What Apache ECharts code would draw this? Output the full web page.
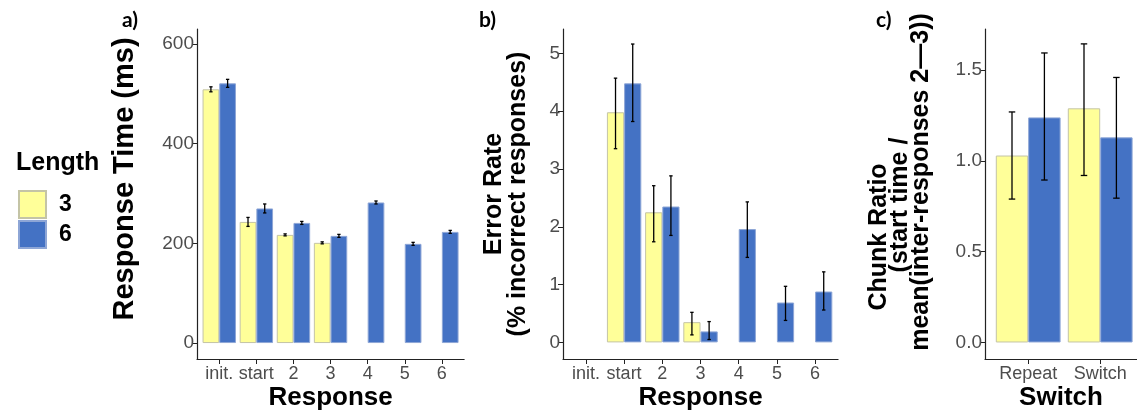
<!DOCTYPE html>
<html>
<head>
<meta charset="utf-8">
<script src="https://cdn.jsdelivr.net/npm/echarts@6/dist/echarts.min.js"></script>
<style>
  html, body { margin: 0; padding: 0; background: #fff; }
  #main { width: 1137px; height: 419px; }
</style>
</head>
<body>
<div id="main"></div>
<script>
  // panel a - response time
  let respCats = ['init.', 'start', '2', '3', '4', '5', '6'];
  let rt3 = [509, 243, 217, 201, null, null, null];
  let rt3Lo = [504, 234, 215, 199, null, null, null];
  let rt3Hi = [514, 252, 219, 203, null, null, null];
  let rt6 = [521, 270, 241, 215, 282, 199, 223];
  let rt6Lo = [513, 261, 238, 212, 279, 196, 220];
  let rt6Hi = [529, 279, 244, 218, 285, 202, 226];
  let rtTicks = [0, 200, 400, 600];

  // panel b - error rate
  let er3 = [null, 3.98, 2.25, 0.35, null, null, null];
  let er3Lo = [null, 3.35, 1.74, 0.13, null, null, null];
  let er3Hi = [null, 4.57, 2.71, 0.52, null, null, null];
  let er6 = [null, 4.48, 2.35, 0.19, 1.96, 0.69, 0.88];
  let er6Lo = [null, 3.82, 1.85, 0.05, 1.47, 0.38, 0.56];
  let er6Hi = [null, 5.16, 2.88, 0.36, 2.43, 0.97, 1.22];
  let erTicks = [0, 1, 2, 3, 4, 5];

  // panel c - chunk ratio
  let switchCats = ['Repeat', 'Switch'];
  let cr3 = [1.03, 1.29];
  let cr3Lo = [0.79, 0.92];
  let cr3Hi = [1.27, 1.645];
  let cr6 = [1.24, 1.13];
  let cr6Lo = [0.895, 0.795];
  let cr6Hi = [1.595, 1.46];
  let crTicks = [0, 0.5, 1.0, 1.5];

  let yellow = '#FFFF99';
  let blue = '#4472C4';
  let font = 'Liberation Sans';

  // panel layout: frame grid (axis lines) and bar grid (inset by ggplot's extra 0.1 band)
  let panels = [
    {left: 197, step: 37.1, n: 7, min: -32, max: 630},
    {left: 563, step: 38.2, n: 7, min: -0.287, max: 5.42},
    {left: 985, step: 72, n: 2, min: -0.091, max: 1.727}
  ];

  let grids = [];
  panels.forEach(function (p) {
    grids.push({left: p.left, top: 29, width: p.step * (p.n + 0.2), height: 330});
    grids.push({left: p.left + p.step * 0.1, top: 29, width: p.step * p.n, height: 330});
  });

  function errData(lo, hi) {
    let out = [];
    for (let i = 0; i < lo.length; i++) {
      if (lo[i] != null) out.push([i, lo[i], hi[i]]);
    }
    return out;
  }

  function errRenderer(offset, cap) {
    return function (params, api) {
      let x = api.coord([api.value(0), 0])[0] + offset;
      let lo = api.coord([api.value(0), api.value(1)])[1];
      let hi = api.coord([api.value(0), api.value(2)])[1];
      let st = {stroke: '#000', lineWidth: 1.3};
      return {
        type: 'group',
        children: [
          {type: 'line', shape: {x1: x, y1: lo, x2: x, y2: hi}, style: st},
          {type: 'line', shape: {x1: x - cap, y1: hi, x2: x + cap, y2: hi}, style: st},
          {type: 'line', shape: {x1: x - cap, y1: lo, x2: x + cap, y2: lo}, style: st}
        ]
      };
    };
  }

  function frameX(gi, name) {
    return {
      type: 'value', gridIndex: gi, min: 0, max: 1,
      axisLine: {onZero: false, lineStyle: {color: '#222', width: 1.2}},
      axisTick: {show: false}, axisLabel: {show: false}, splitLine: {show: false},
      name: name, nameLocation: 'middle', nameGap: 26,
      nameTextStyle: {fontFamily: font, fontWeight: 'bold', fontSize: 26, color: '#000'}
    };
  }

  function barX(gi, cats) {
    return {
      type: 'category', gridIndex: gi, data: cats,
      axisLine: {show: false, onZero: false},
      axisTick: {show: true, alignWithLabel: true, length: 5, lineStyle: {color: '#222'}},
      axisLabel: {interval: 0, fontFamily: font, fontSize: 18, color: '#4D4D4D', margin: 6,
        hideOverlap: false}
    };
  }

  function frameY(gi, p, ticks, name, nameGap, nameStyle, fmt) {
    return {
      type: 'value', gridIndex: gi, min: p.min, max: p.max,
      axisLine: {show: true, lineStyle: {color: '#222', width: 1.2}},
      axisTick: {show: true, length: 5, customValues: ticks, lineStyle: {color: '#222'}},
      axisLabel: {customValues: ticks, fontFamily: font, fontSize: 19, color: '#4D4D4D', margin: 3,
        formatter: fmt},
      splitLine: {show: false},
      name: name, nameLocation: 'middle', nameGap: nameGap,
      nameTextStyle: nameStyle
    };
  }

  function barY(gi, p) {
    return {type: 'value', gridIndex: gi, min: p.min, max: p.max, show: false};
  }

  function nameFont(size, lh) {
    return {fontFamily: font, fontWeight: 'bold', fontSize: size, color: '#000', lineHeight: lh};
  }

  let chunkStyle = nameFont(25, 21);
  chunkStyle.rich = {
    l1: Object.assign(nameFont(25, 21), {padding: [0, 86, 0, 0]}),
    l2: Object.assign(nameFont(25, 21), {padding: [0, 22, 0, 0]}),
    l3: Object.assign(nameFont(25, 21), {padding: [0, 0, 0, 24]})
  };
  let rtStyle = nameFont(29, 30);
  rtStyle.padding = [0, 0, 0, 30];

  let xAxes = [
    frameX(0, 'Response'), barX(1, respCats),
    frameX(2, 'Response'), barX(3, respCats),
    frameX(4, 'Switch'), barX(5, switchCats)
  ];
  let yAxes = [
    frameY(0, panels[0], rtTicks, 'Response Time (ms)', 57, rtStyle, function (v) { return v; }),
    barY(1, panels[0]),
    frameY(2, panels[1], erTicks, 'Error Rate\n(% incorrect responses)', 33, nameFont(25, 24),
      function (v) { return v; }),
    barY(3, panels[1]),
    frameY(4, panels[2], crTicks,
      '{l1|Chunk Ratio}\n{l2|(start time /}\n{l3|mean(inter-responses 2\u20143))}', 53, chunkStyle,
      function (v) { return v.toFixed(1); }),
    barY(5, panels[2])
  ];

  let seriesSets = [
    {ax: 1, bw: 16.7, a: rt3, aLo: rt3Lo, aHi: rt3Hi, b: rt6, bLo: rt6Lo, bHi: rt6Hi},
    {ax: 3, bw: 17.2, a: er3, aLo: er3Lo, aHi: er3Hi, b: er6, bLo: er6Lo, bHi: er6Hi},
    {ax: 5, bw: 32.4, a: cr3, aLo: cr3Lo, aHi: cr3Hi, b: cr6, bLo: cr6Lo, bHi: cr6Hi}
  ];

  let series = [];
  seriesSets.forEach(function (s) {
    series.push({
      name: '3', type: 'bar', xAxisIndex: s.ax, yAxisIndex: s.ax, data: s.a,
      barWidth: s.bw, barGap: '0%',
      itemStyle: {color: yellow, borderColor: '#C4C4A6', borderWidth: 1}
    });
    series.push({
      name: '6', type: 'bar', xAxisIndex: s.ax, yAxisIndex: s.ax, data: s.b,
      barWidth: s.bw, barGap: '0%',
      itemStyle: {color: blue, borderColor: '#8EA6D6', borderWidth: 1}
    });
    series.push({
      name: 'err3', type: 'custom', xAxisIndex: s.ax, yAxisIndex: s.ax,
      renderItem: errRenderer(-s.bw / 2, s.bw * 0.1), data: errData(s.aLo, s.aHi),
      encode: {x: 0, y: [1, 2]}, z: 5
    });
    series.push({
      name: 'err6', type: 'custom', xAxisIndex: s.ax, yAxisIndex: s.ax,
      renderItem: errRenderer(s.bw / 2, s.bw * 0.1), data: errData(s.bLo, s.bHi),
      encode: {x: 0, y: [1, 2]}, z: 5
    });
  });

  let letterStyle = {fontFamily: 'Lato', fontWeight: 'bold', fontSize: 21, color: '#000'};

  let myChart = echarts.init(document.getElementById('main'));
  myChart.setOption({
    animation: false,
    backgroundColor: '#fff',
    title: [
      {text: 'a)', left: 117, top: 5, textStyle: letterStyle},
      {text: 'b)', left: 474, top: 5, textStyle: letterStyle},
      {text: 'c)', left: 871, top: 5, textStyle: letterStyle},
      {text: 'Length', left: 11, top: 146,
        textStyle: {fontFamily: font, fontWeight: 'bold', fontSize: 25, color: '#000'}}
    ],
    legend: {
      data: ['3', '6'], orient: 'vertical', left: 13, top: 185,
      itemWidth: 27, itemHeight: 27, itemGap: 1, icon: 'rect',
      textStyle: {fontFamily: font, fontWeight: 'bold', fontSize: 23, color: '#000', padding: [0, 0, 0, 8]}
    },
    grid: grids,
    xAxis: xAxes,
    yAxis: yAxes,
    series: series
  });
</script>
</body>
</html>
